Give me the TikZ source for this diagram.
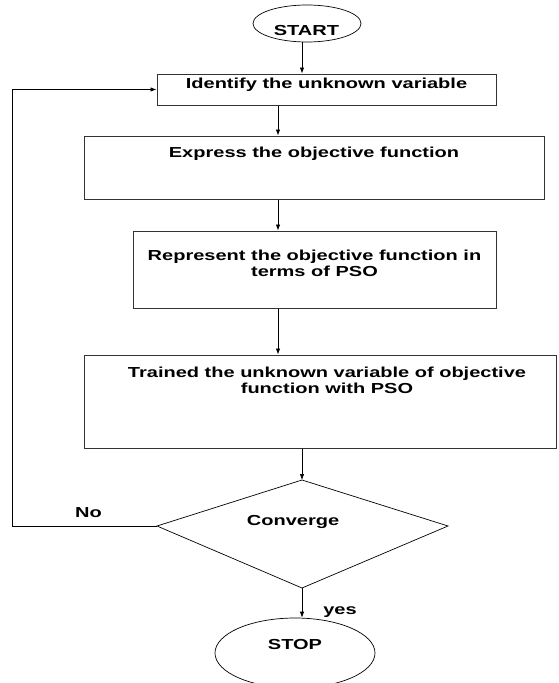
\documentclass[tikz,border=0pt]{standalone}
\usepackage{fontspec}
\newfontfamily\chartfont{Liberation Sans}[FakeStretch=1.38]
\usetikzlibrary{shapes.geometric,positioning,arrows.meta}

\tikzset{
	procbox/.style={draw=black!80, line width=1pt, inner sep=0pt},
	terminal/.style={draw, ellipse, line width=0.7pt, inner sep=0pt},
	steptext/.style={inner sep=0pt, align=center, font=\chartfont\bfseries\fontsize{14.5}{16}\selectfont},
	flow/.style={->, line width=0.7pt},
}

\begin{document}
\begin{tikzpicture}[x=1pt, y=-1pt, >={Latex[length=6pt,width=4.5pt]}]
		\path[use as bounding box, clip] (0,0) rectangle (558,683);
		\coordinate (spine) at (278,0);
		\coordinate (back) at (12,0);

		% start and stop
		\node[terminal, minimum width=108pt, minimum height=37pt] (start) at (307,23.5) {};
		\node[steptext] (start-text) at (306.5,30.5) {START};
		\node[terminal, minimum width=160pt, minimum height=70pt] (stop) at (295,653) {};
		\node[steptext] (stop-text) at (295,644.5) {STOP};

		% process boxes
		\node[procbox, minimum width=339pt, minimum height=31pt] (ident) at (326.5,89.5) {};
		\node[steptext, below=4pt of ident.north] (ident-text) {Identify the unknown variable};
		\node[procbox, minimum width=460pt, minimum height=63pt] (express) at (314,167.5) {};
		\node[steptext, below=11pt of express.north] (express-text) {Express the objective function};
		\node[procbox, minimum width=363pt, minimum height=77pt] (repr) at (314.5,269.5) {};
		\node[steptext, below=19pt of repr.north] (repr-text) {Represent the objective function in\\terms of PSO};
		\node[procbox, minimum width=472pt, minimum height=93pt] (trained) at (320,401.5) {};
		\node[steptext, below=12pt of trained.north, xshift=7pt] (trained-text) {Trained the unknown variable of objective\\function with PSO};

		% decision
		\coordinate (dtop) at (302,480);
		\coordinate (dleft) at (157,526);
		\coordinate (dright) at (448,526);
		\coordinate (dbot) at (302,588);
		\draw[line width=0.7pt] (dtop) -- (dright) -- (dbot) -- (dleft) -- cycle;
		\node[steptext] (conv) at (293,522) {Converge};

		% connectors
		\draw[flow] (start.south -| dtop) -- (ident.north -| dtop);
		\draw[flow] (ident.south -| spine) -- (express.north -| spine);
		\draw[flow] (express.south -| spine) -- (repr.north -| spine);
		\draw[flow] (repr.south -| spine) -- (trained.north -| spine);
		\draw[flow] (trained.south -| dtop) -- (dtop);
		\draw[flow] (dleft) -- (dleft -| back) |- (ident.west);
		\draw[flow] (dbot) -- (dbot |- stop.north);
		\node[steptext] (no) at (88.5,513) {No};
		\node[steptext] (yes) at (340,612) {yes};
	\end{tikzpicture}
\end{document}
